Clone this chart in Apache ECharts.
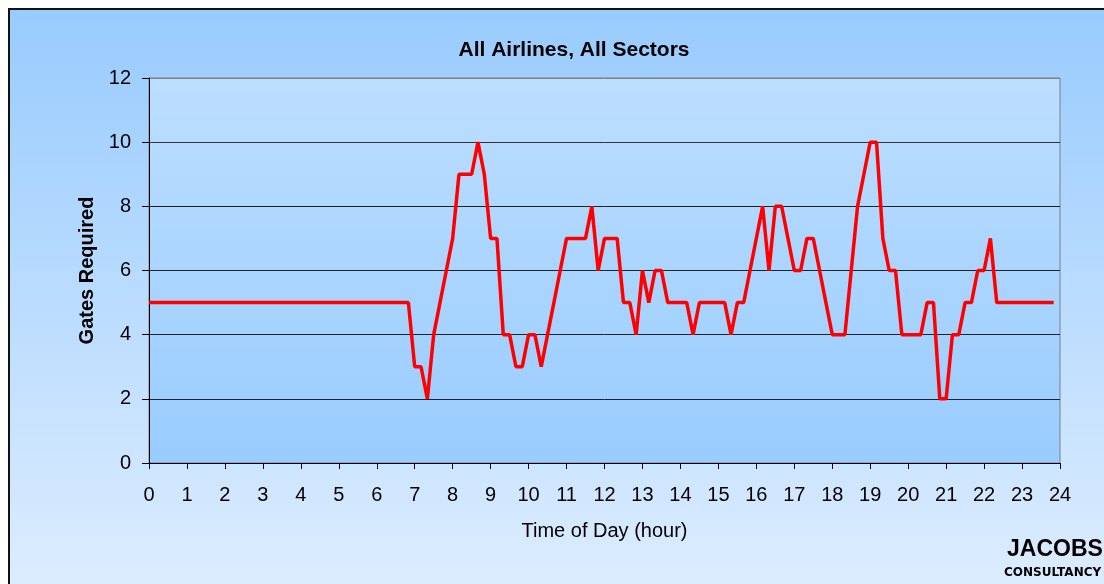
<!DOCTYPE html>
<html>
<head>
<meta charset="utf-8">
<script src="https://cdn.jsdelivr.net/npm/echarts@6/dist/echarts.min.js"></script>
<style>
  html, body { margin: 0; padding: 0; background: #ffffff; }
  #chart { width: 1104px; height: 584px; }
</style>
</head>
<body>
<div id="chart"></div>
<script>
// Gates required per 10-minute slot, starting at 00:00
const SLOT_MINUTES = 10;
const gatesRequired = [
  // 00:00 - 06:50
  5, 5, 5, 5, 5, 5,   5, 5, 5, 5, 5, 5,   5, 5, 5, 5, 5, 5,
  5, 5, 5, 5, 5, 5,   5, 5, 5, 5, 5, 5,   5, 5, 5, 5, 5, 5,
  5, 5, 5, 5, 5, 5,
  // 07:00 - 11:50
  3, 3, 2, 4, 5, 6,   7, 9, 9, 9, 10, 9,  7, 7, 4, 4, 3, 3,
  4, 4, 3, 4, 5, 6,   7, 7, 7, 7, 8, 6,
  // 12:00 - 17:50
  7, 7, 7, 5, 5, 4,   6, 5, 6, 6, 5, 5,   5, 5, 4, 5, 5, 5,
  5, 5, 4, 5, 5, 6,   7, 8, 6, 8, 8, 7,   6, 6, 7, 7, 6, 5,
  // 18:00 - 23:50
  4, 4, 4, 6, 8, 9,   10, 10, 7, 6, 6, 4, 4, 4, 4, 5, 5, 2,
  2, 4, 4, 5, 5, 6,   6, 7, 5, 5, 5, 5,   5, 5, 5, 5, 5, 5
];

const chartTitle = 'All Airlines, All Sectors';
const xAxisTitle = 'Time of Day (hour)';
const yAxisTitle = 'Gates Required';
const brandName = 'JACOBS';
const brandSub = 'CONSULTANCY';

const seriesData = gatesRequired.map((v, i) => [i * SLOT_MINUTES / 60, v]);

const FONT = '"Liberation Sans", Arial, sans-serif';
const chart = echarts.init(document.getElementById('chart'), null, { renderer: 'canvas' });

chart.setOption({
  backgroundColor: '#ffffff',
  animation: false,
  title: {
    text: chartTitle,
    left: 569,
    textAlign: 'center',
    top: 35,
    textStyle: { fontFamily: FONT, fontSize: 21, fontWeight: 'bold', color: '#000' }
  },
  graphic: [
    {
      type: 'rect',
      z: -10,
      silent: true,
      shape: { x: 9, y: 9, width: 1200, height: 700 },
      style: {
        fill: new echarts.graphic.LinearGradient(0, 9, 0, 584, [
          { offset: 0, color: '#98cbfe' },
          { offset: 1, color: '#dcecff' }
        ], true),
        stroke: '#111',
        lineWidth: 2
      }
    },
    {
      type: 'text',
      z: 10,
      left: 1007,
      top: 538,
      style: { text: brandName, font: 'bold 23px ' + FONT, fill: '#000' }
    },
    {
      type: 'text',
      z: 10,
      left: 1004,
      top: 567,
      style: { text: brandSub, font: 'bold 12px "DejaVu Sans", sans-serif', fill: '#000' }
    }
  ],
  grid: {
    left: 149,
    top: 78,
    right: 44,
    bottom: 121,
    show: true,
    borderColor: '#808080',
    borderWidth: 1,
    backgroundColor: new echarts.graphic.LinearGradient(0, 0, 0, 1, [
      { offset: 0, color: '#bcdeff' },
      { offset: 1, color: '#99ccff' }
    ])
  },
  xAxis: {
    type: 'value',
    min: 0,
    max: 24,
    interval: 1,
    name: xAxisTitle,
    nameLocation: 'middle',
    nameGap: 58,
    nameTextStyle: { fontFamily: FONT, fontSize: 20, color: '#000' },
    axisLine: { show: true, lineStyle: { color: '#000', width: 1 } },
    axisTick: { show: true, inside: false, length: 6, lineStyle: { color: '#000' } },
    axisLabel: { margin: 22, fontFamily: FONT, fontSize: 20, color: '#000' },
    splitLine: { show: false }
  },
  yAxis: {
    type: 'value',
    min: 0,
    max: 12,
    interval: 2,
    name: yAxisTitle,
    nameLocation: 'middle',
    nameGap: 52,
    nameTextStyle: { fontFamily: FONT, fontSize: 20, fontWeight: 'bold', color: '#000' },
    axisLine: { show: true, lineStyle: { color: '#000', width: 1 } },
    axisTick: { show: true, inside: false, length: 7, lineStyle: { color: '#000' } },
    axisLabel: { margin: 18, fontFamily: FONT, fontSize: 20, color: '#000' },
    splitLine: {
      show: true,
      lineStyle: { color: ['#222', '#222', '#222', '#222', '#222', '#333', '#808080'], width: 1 }
    }
  },
  series: [{
    type: 'line',
    data: seriesData,
    showSymbol: false,
    symbol: 'none',
    lineStyle: { color: '#ff0000', width: 3.5 },
    z: 5
  }]
});
</script>
</body>
</html>
